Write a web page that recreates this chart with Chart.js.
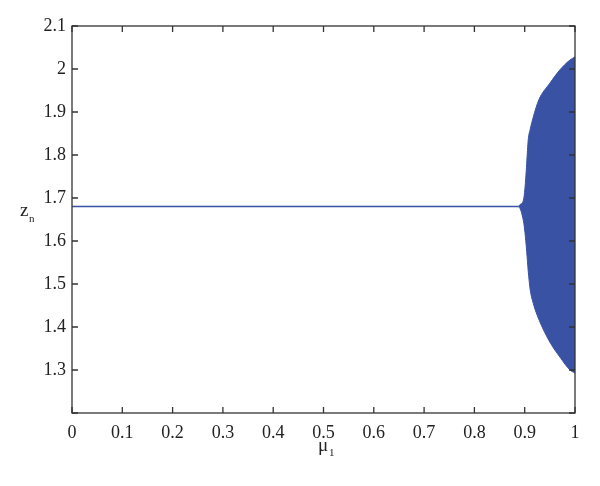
<!DOCTYPE html>
<html>
<head>
    <title>Bifurcation diagram</title>
    <script src="https://cdn.jsdelivr.net/npm/chart.js"></script>
    <style>
        body { margin: 0; background: #fff; }
        #wrap { width: 600px; height: 486px; }
    </style>
</head>
<body>
    <div id="wrap"><canvas id="myChart" width="600" height="486"></canvas></div>

    <script>
        // fixed point branch before the bifurcation
        const flatX = [0, 0.887];
        const flatZ = [1.68, 1.68];

        // envelope of the chaotic band
        const bandX = [0.887, 0.891, 0.896, 0.899, 0.902, 0.904, 0.907, 0.911, 0.917, 0.928, 0.95, 0.97, 0.99, 1.0];
        const bandUpper = [1.68, 1.685, 1.69, 1.705, 1.745, 1.781, 1.835, 1.86, 1.888, 1.928, 1.967, 1.998, 2.021, 2.028];
        const bandLower = [1.68, 1.675, 1.655, 1.635, 1.602, 1.575, 1.53, 1.486, 1.455, 1.418, 1.365, 1.33, 1.3, 1.293];

        const yTicks = [1.3, 1.4, 1.5, 1.6, 1.7, 1.8, 1.9, 2, 2.1];
        const xTicks = [0, 0.1, 0.2, 0.3, 0.4, 0.5, 0.6, 0.7, 0.8, 0.9, 1];

        const blue = '#3a52a3';
        const serif = '"Liberation Serif", "DejaVu Serif", serif';

        const toPts = (xs, ys) => xs.map((x, i) => ({ x: x, y: ys[i] }));

        // box with inward ticks on all four sides, plus the axis titles
        const frame = {
            id: 'frame',
            afterDraw(chart) {
                const ctx = chart.ctx;
                const a = chart.chartArea;
                const xs = chart.scales.x, ys = chart.scales.y;
                ctx.save();
                ctx.strokeStyle = '#333';
                ctx.lineWidth = 1.3;
                ctx.strokeRect(a.left, a.top, a.right - a.left, a.bottom - a.top);
                ctx.beginPath();
                xTicks.forEach(v => {
                    const px = xs.getPixelForValue(v);
                    ctx.moveTo(px, a.bottom); ctx.lineTo(px, a.bottom - 6);
                    ctx.moveTo(px, a.top); ctx.lineTo(px, a.top + 6);
                });
                yTicks.concat([1.2]).forEach(v => {
                    const py = ys.getPixelForValue(v);
                    ctx.moveTo(a.left, py); ctx.lineTo(a.left + 6, py);
                    ctx.moveTo(a.right, py); ctx.lineTo(a.right - 6, py);
                });
                ctx.stroke();

                ctx.fillStyle = '#222';
                ctx.textBaseline = 'alphabetic';
                ctx.textAlign = 'left';
                ctx.font = '19px ' + serif;
                ctx.fillText('\u03bc', 318, 451);
                ctx.font = '11px ' + serif;
                ctx.fillText('1', 329, 456);
                ctx.font = '19px ' + serif;
                ctx.fillText('z', 20, 216);
                ctx.font = '11px ' + serif;
                ctx.fillText('n', 29, 222);
                ctx.restore();
            }
        };

        const ctx = document.getElementById('myChart').getContext('2d');
        const myChart = new Chart(ctx, {
            type: 'line',
            data: {
                datasets: [
                    {
                        label: 'upper',
                        data: toPts(bandX, bandUpper),
                        borderColor: blue,
                        backgroundColor: blue,
                        borderWidth: 1,
                        pointRadius: 0,
                        cubicInterpolationMode: 'monotone',
                        fill: '+1'
                    },
                    {
                        label: 'lower',
                        data: toPts(bandX, bandLower),
                        borderColor: blue,
                        borderWidth: 1,
                        pointRadius: 0,
                        cubicInterpolationMode: 'monotone',
                        fill: false
                    },
                    {
                        label: 'fixed point',
                        data: toPts(flatX, flatZ),
                        borderColor: blue,
                        borderWidth: 1.5,
                        pointRadius: 0,
                        fill: false
                    }
                ]
            },
            options: {
                responsive: false,
                animation: false,
                layout: { padding: { top: 26, right: 25, left: 0, bottom: 0 } },
                plugins: {
                    legend: { display: false },
                    tooltip: { enabled: false }
                },
                scales: {
                    x: {
                        type: 'linear',
                        min: 0,
                        max: 1,
                        afterBuildTicks: s => { s.ticks = xTicks.map(v => ({ value: v })); },
                        afterFit: s => { s.height = 73; },
                        grid: { display: false, drawTicks: false },
                        border: { display: false },
                        ticks: {
                            padding: 9,
                            color: '#222',
                            font: { family: serif, size: 18 },
                            maxRotation: 0,
                            callback: v => String(Math.round(v * 10) / 10)
                        }
                    },
                    y: {
                        type: 'linear',
                        min: 1.2,
                        max: 2.1,
                        afterBuildTicks: s => { s.ticks = yTicks.map(v => ({ value: v })); },
                        afterFit: s => { s.width = 72; },
                        grid: { display: false, drawTicks: false },
                        border: { display: false },
                        ticks: {
                            padding: 6,
                            color: '#222',
                            font: { family: serif, size: 18 },
                            callback: v => String(Math.round(v * 10) / 10)
                        }
                    }
                }
            },
            plugins: [frame]
        });
    </script>
</body>
</html>
